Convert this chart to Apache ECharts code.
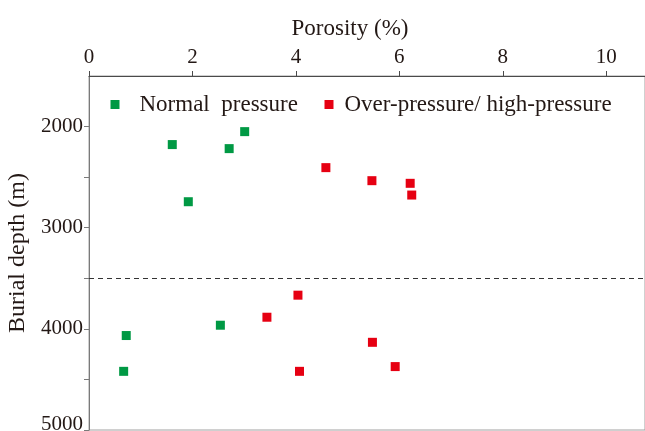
<!DOCTYPE html>
<html>
<head>
<meta charset="utf-8">
<script src="https://cdn.jsdelivr.net/npm/echarts@6/dist/echarts.min.js"></script>
<style>html,body{margin:0;padding:0;background:#fff}#c{width:645px;height:431px}</style>
</head>
<body>
<div id="c"></div>
<script>
var normalPressure = [
  [1.61, 2178], [2.71, 2218], [3.01, 2050], [1.92, 2743],
  [0.72, 4066], [0.67, 4420], [2.54, 3964]
];
var overPressure = [
  [4.58, 2406], [5.47, 2535], [6.21, 2561], [6.24, 2677],
  [4.04, 3667], [3.44, 3885], [4.07, 4420], [5.48, 4133], [5.92, 4373]
];
var boundaryDepth = 3500;
var xTicks = [0, 2, 4, 6, 8, 10];
var yLabelTicks = [2000, 3000, 4000, 5000];
var seriesNames = ['Normal  pressure', 'Over-pressure/ high-pressure'];

var FONT = 'Liberation Serif';
var TXT = '#231815';
var chart = echarts.init(document.getElementById('c'), null, {renderer: 'canvas'});
chart.setOption({
  animation: false,
  backgroundColor: '#fff',
  grid: {left: 89, top: 76, right: 0, bottom: 1, outerBoundsMode: 'none',
    show: true, borderColor: '#a0a0a0', borderWidth: 1},
  legend: [
    {
      left: 110.5, top: 93, padding: 0, itemWidth: 9, itemHeight: 9, icon: 'rect',
      textStyle: {fontFamily: FONT, fontSize: 23, color: TXT, padding: [0, 0, 0, 15]},
      data: [seriesNames[0]]
    },
    {
      left: 324.5, top: 93, padding: 0, itemWidth: 9, itemHeight: 9, icon: 'rect',
      textStyle: {fontFamily: FONT, fontSize: 23, color: TXT, padding: [0, 0, 0, 6]},
      data: [seriesNames[1]]
    }
  ],
  xAxis: {
    type: 'value', position: 'top', min: 0, max: 10.75, interval: 2,
    name: 'Porosity (%)', nameLocation: 'middle', nameGap: 36,
    nameTextStyle: {fontFamily: FONT, fontSize: 23, color: TXT, padding: [0, 34, 0, 0]},
    axisLine: {show: true, lineStyle: {color: '#4a4a4a', width: 1}},
    axisTick: {show: true, length: 5, inside: false, lineStyle: {color: '#4a4a4a'}},
    axisLabel: {fontFamily: FONT, fontSize: 21, color: TXT, margin: 8, showMaxLabel: false,
      formatter: function (v) { return xTicks.indexOf(v) >= 0 ? String(v) : ''; }},
    splitLine: {show: false}
  },
  yAxis: {
    type: 'value', inverse: true, min: 1500, max: 5000, interval: 500,
    name: 'Burial depth (m)', nameLocation: 'middle', nameGap: 56, nameRotate: 90,
    nameTextStyle: {fontFamily: FONT, fontSize: 24, color: TXT},
    axisLine: {show: true, lineStyle: {color: '#7a7a7a', width: 1}},
    axisTick: {show: true, length: 5, lineStyle: {color: '#7a7a7a'}},
    axisLabel: {fontFamily: FONT, fontSize: 21, color: TXT, margin: 6, showMinLabel: false,
      formatter: function (v) {
        if (yLabelTicks.indexOf(v) < 0) return '';
        return v === 5000 ? '{b|' + v + '}' : String(v);
      },
      rich: {b: {fontFamily: FONT, fontSize: 21, color: TXT, padding: [0, 0, 12, 0]}}
    },
    splitLine: {show: false}
  },
  series: [
    {
      name: seriesNames[0], type: 'scatter', symbol: 'rect', symbolSize: 9,
      itemStyle: {color: '#009944', opacity: 1}, data: normalPressure,
      markLine: {
        silent: true, symbol: ['none', 'none'], label: {show: false},
        lineStyle: {color: '#333', type: [5, 4], width: 1, opacity: 1},
        data: [{yAxis: boundaryDepth}]
      }
    },
    {
      name: seriesNames[1], type: 'scatter', symbol: 'rect', symbolSize: 9,
      itemStyle: {color: '#e60012', opacity: 1}, data: overPressure
    }
  ]
});
</script>
</body>
</html>
